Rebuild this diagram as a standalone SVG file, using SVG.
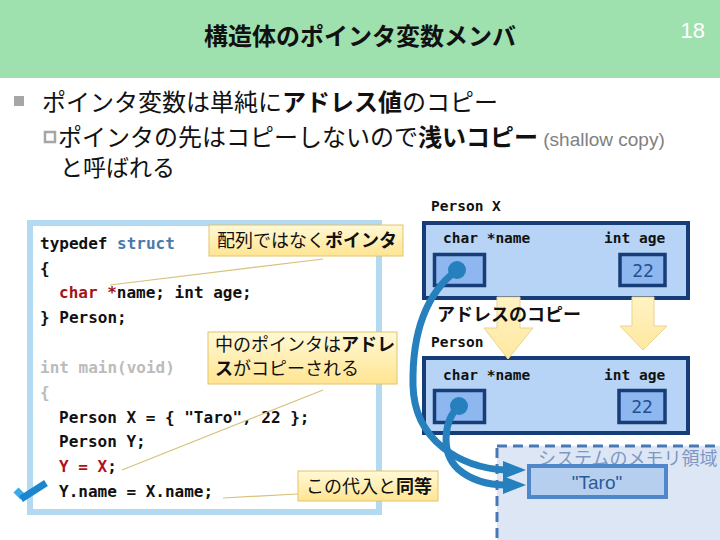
<svg xmlns="http://www.w3.org/2000/svg" width="720" height="540" viewBox="0 0 720 540">
<defs>
<linearGradient id="callout" x1="0" y1="0" x2="0" y2="1">
<stop offset="0" stop-color="#FFF9D6"/>
<stop offset="1" stop-color="#FFE592"/>
</linearGradient>
<linearGradient id="yarrow" x1="0" y1="0" x2="0" y2="1">
<stop offset="0" stop-color="#FFF3C4"/>
<stop offset="1" stop-color="#FFE8A0"/>
</linearGradient>
<style>
.jp{font-family:"Noto Sans CJK JP","Noto Sans",sans-serif;}
.b{font-weight:bold;}
.code{font-family:"DejaVu Sans Mono","Liberation Mono",monospace;font-size:16px;font-weight:bold;fill:#111;}
.lbl{font-family:"DejaVu Sans Mono","Liberation Mono",monospace;font-size:14.5px;font-weight:bold;fill:#111;}
.num{font-family:"DejaVu Sans Mono",monospace;font-size:18px;fill:#1F4F8F;text-anchor:middle;}
.kw{fill:#4A79A8;}
.ty{fill:#A31515;}
.red{fill:#B01020;}
.gray{fill:#BBBBBB;}
.callout{fill:url(#callout);stroke:#E3C46A;stroke-width:1;}
.leader{stroke:#D6C27A;stroke-width:1.2;fill:none;}
.struct{fill:#B7D3F5;stroke:#163D78;stroke-width:4;}
.cell{fill:#8DB7EE;stroke:#163D78;stroke-width:3.5;}
.dot{fill:#2680BD;}
.ptr{fill:none;stroke:#2680BD;stroke-width:7;}
.yarrow{fill:url(#yarrow);stroke:#EBD48C;stroke-width:1;}
</style>
</defs>
<rect x="0" y="0" width="720" height="540" fill="#FFFFFF"/>
<g id="header">
<rect x="0" y="0" width="720" height="78" fill="#9FE0AF"/>
<text class="jp b" x="360" y="45" font-size="24" text-anchor="middle" fill="#111">構造体のポインタ変数メンバ</text>
<text x="705" y="38" font-family="Liberation Sans, sans-serif" font-size="22" fill="#FFFFFF" text-anchor="end">18</text>
</g>
<g id="bullets">
<rect x="14" y="96" width="10" height="10" fill="#A6A6A6"/>
<text class="jp" x="42" y="111" font-size="24" fill="#111">ポインタ変数は単純に<tspan class="b">アドレス値</tspan>のコピー</text>
<rect x="45" y="132" width="10" height="10" fill="#FFFFFF" stroke="#A6A6A6" stroke-width="2.5"/>
<text class="jp" x="58" y="146" font-size="24" fill="#111">ポインタの先はコピーしないので<tspan class="b">浅いコピー</tspan><tspan font-family="Liberation Sans, sans-serif" font-size="19" fill="#808080"> (shallow copy)</tspan></text>
<text class="jp" x="60" y="176" font-size="23" fill="#111">と呼ばれる</text>
</g>
<g id="code">
<rect x="30" y="223" width="349" height="289" fill="#FFFFFF" stroke="#B4DAF2" stroke-width="6"/>
<text class="code" x="40" y="249">typedef <tspan class="kw">struct</tspan></text>
<text class="code" x="40" y="274">{</text>
<text class="code" x="59" y="298"><tspan class="ty">char</tspan> <tspan class="ty">*</tspan>name; int age;</text>
<text class="code" x="40" y="323">} Person;</text>
<text class="code gray" x="40" y="373" font-weight="normal">int main(void)</text>
<text class="code gray" x="40" y="398" font-weight="normal">{</text>
<text class="code" x="59" y="423">Person X = { "Taro", 22 };</text>
<text class="code" x="59" y="447">Person Y;</text>
<text class="code red" x="59" y="472">Y = X<tspan fill="#111">;</tspan></text>
<text class="code" x="59" y="497">Y.name = X.name;</text>
</g>
<g id="check">
<path d="M16,490 L23,497" stroke="#3AAAE8" stroke-width="7" fill="none"/>
<path d="M21,499 L46,483" stroke="#1C86CC" stroke-width="7" fill="none"/>
</g>
<g id="leaders">
<line class="leader" x1="323" y1="259" x2="110" y2="285"/>
<line class="leader" x1="323" y1="390" x2="122" y2="470"/>
<polyline class="leader" points="223,498 297,494 299,494"/>
</g>
<g id="callout1">
<rect class="callout" x="209" y="225" width="194" height="31"/>
<text class="jp" x="217" y="247" font-size="18" fill="#111">配列ではなく<tspan class="b">ポインタ</tspan></text>
</g>
<g id="callout2">
<rect class="callout" x="208" y="332" width="189" height="52"/>
<text class="jp" x="215" y="351" font-size="18" fill="#111">中のポインタは<tspan class="b">アドレ</tspan></text>
<text class="jp" x="215" y="375" font-size="18" fill="#111"><tspan class="b">ス</tspan>がコピーされる</text>
</g>
<g id="callout3">
<rect class="callout" x="298" y="471" width="140" height="30"/>
<text class="jp" x="306" y="493" font-size="18" fill="#111">この代入と<tspan class="b">同等</tspan></text>
</g>
<g id="memory">
<rect x="497" y="446" width="240" height="110" fill="#DCE6F4" stroke="#4A78B4" stroke-width="3" stroke-dasharray="10 6"/>
<text class="jp" x="538" y="465" font-size="18" fill="#7E98C4">システムのメモリ領域</text>
<rect x="529" y="466" width="137" height="31" fill="#B7CFEF" stroke="#4F87C9" stroke-width="4"/>
<text x="597" y="489" font-family="Liberation Sans, sans-serif" font-size="19" fill="#2B5A98" text-anchor="middle">"Taro"</text>
</g>
<g id="personX">
<text class="lbl" x="431" y="211">Person X</text>
<rect class="struct" x="424" y="223" width="264" height="75"/>
<text class="lbl" x="443" y="243">char *name</text>
<text class="lbl" x="604" y="243">int age</text>
<rect class="cell" x="434.5" y="254.5" width="50" height="31"/>
<rect class="cell" x="620" y="254.5" width="45" height="31"/>
<text class="num" x="643" y="277">22</text>
<circle class="dot" cx="457" cy="270" r="9"/>
</g>
<g id="personY">
<text class="lbl" x="431" y="347">Person</text>
<rect class="struct" x="424" y="358" width="264" height="75"/>
<text class="lbl" x="443" y="380">char *name</text>
<text class="lbl" x="604" y="380">int age</text>
<rect class="cell" x="434.5" y="390.5" width="50" height="32"/>
<rect class="cell" x="619" y="390.5" width="46" height="32"/>
<text class="num" x="642" y="413">22</text>
<circle class="dot" cx="459" cy="406" r="9"/>
</g>
<g id="connectors">
<polygon class="yarrow" points="497,297 520,297 520,328 533,328 508,359 484,328 497,328"/>
<polygon class="yarrow" points="632,297 654,297 654,326 667,326 643,350 620,326 632,326"/>
<path class="ptr" d="M457,270 C428,292 412,330 413,385 C414,440 460,468 506,470"/>
<polygon points="503,461 526,470 503,479" fill="#2680BD"/>
<path class="ptr" d="M459,406 C444,420 440,452 458,469 C472,481 490,485 506,485"/>
<polygon points="503,476 526,485 503,494" fill="#2680BD"/>
</g>
<text class="jp b" x="437" y="321" font-size="18" fill="#111">アドレスのコピー</text>
</svg>
